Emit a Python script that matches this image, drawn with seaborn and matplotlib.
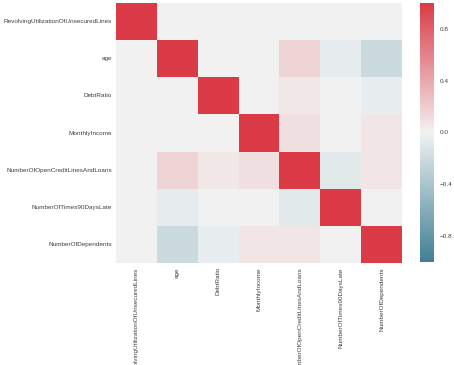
import numpy as np
import pandas as pd
import matplotlib
matplotlib.use("Agg")
import matplotlib.pyplot as plt
import seaborn as sns

features = ['RevolvingUtilizationOfUnsecuredLines', 'age', 'DebtRatio', 'MonthlyIncome',
            'NumberOfOpenCreditLinesAndLoans', 'NumberOfTimes90DaysLate', 'NumberOfDependents']

# upper-triangle correlations (row by row, right of diagonal)
row_revolving = [0.0, 0.0, 0.0, 0.0, 0.0, 0.0]
row_age = [0.0, 0.0, 0.16, -0.06, -0.21]
row_debt = [0.0, 0.06, 0.0, -0.04]
row_income = [0.10, 0.0, 0.07]
row_open = [-0.08, 0.07]
row_late = [0.0]
cbar_ticks = [0.8, 0.4, 0.0, -0.4, -0.8]

upper = [row_revolving, row_age, row_debt, row_income, row_open, row_late]
n = len(features)
corr = np.eye(n)
for i, vals in enumerate(upper):
    for k, v in enumerate(vals):
        j = i + 1 + k
        corr[i, j] = v
        corr[j, i] = v
corr = pd.DataFrame(corr, index=features, columns=features)

sns.set_style("white")
plt.rcParams['font.family'] = ['Liberation Sans', 'DejaVu Sans']
plt.rcParams['text.color'] = '.25'
plt.rcParams['xtick.color'] = '.25'
plt.rcParams['ytick.color'] = '.25'

fig = plt.figure(figsize=(4.54, 3.65), dpi=100)
ax = fig.add_axes([116 / 454, 102 / 365, 286 / 454, 260 / 365])
cax = fig.add_axes([420 / 454, 103 / 365, 14 / 454, 259 / 365])

cmap = sns.diverging_palette(220, 10, as_cmap=True)
sns.heatmap(corr, cmap=cmap, vmin=-1, vmax=1, ax=ax, cbar_ax=cax,
            xticklabels=features, yticklabels=features)

ax.tick_params(axis='both', length=0, labelsize=4.6, pad=3)
ax.set_xticklabels(features, rotation=90, va='top')
ax.set_yticklabels(features, rotation=0)
cax.set_yticks(cbar_ticks)
cax.tick_params(length=0, labelsize=4.6, pad=4)

fig.savefig('out.png', dpi=100)
